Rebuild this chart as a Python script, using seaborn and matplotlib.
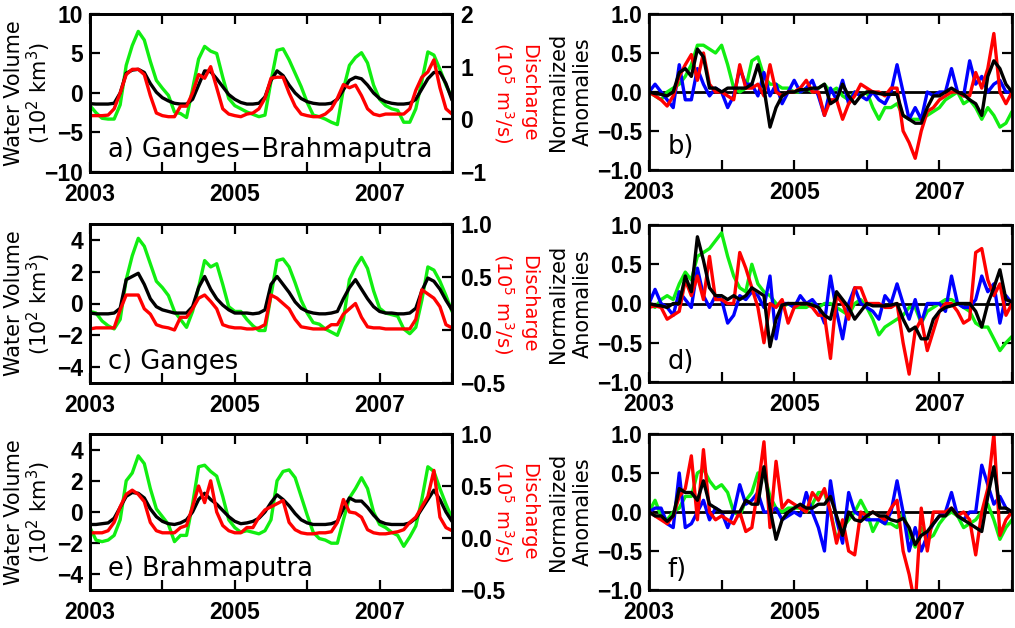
import numpy as np
import matplotlib
matplotlib.use("Agg")
import matplotlib.pyplot as plt
import seaborn as sns

# ---------------- data ----------------
months = np.arange(61)
time = 2003 + months / 12.0

year_ticks = [2003, 2004, 2005, 2006, 2007, 2008]
year_labels = ["2003", "", "2005", "", "2007", ""]

panel_names = ["a) Ganges\u2212Brahmaputra", "c) Ganges", "e) Brahmaputra"]
anom_names = ["b)", "d)", "f)"]

# Ganges-Brahmaputra (a)
gb_green = [-1.6, -2.5, -3.2, -3.3, -3.3, -1.5, 3.5, 6.0, 7.8, 6.7,
            4.0, 1.6, 0.6, -0.3, -2.4, -2.6, -3.1, 0.5, 4.3, 5.9,
            5.3, 5.0, 2.0, -0.7, -1.6, -2.0, -2.4, -2.7, -3.0, -2.8,
            1.5, 5.4, 5.6, 4.2, 2.5, 0.8, -1.2, -2.8, -3.0, -3.3,
            -3.7, -4.0, 0.5, 3.5, 4.5, 5.1, 3.8, 1.0, -0.8, -1.6,
            -2.0, -2.2, -3.7, -3.7, -2.0, 1.5, 5.2, 4.8, 3.0, 1.0,
            -0.6]
gb_black = [-1.35, -1.4, -1.4, -1.4, -1.3, 0.0, 2.5, 2.9, 3.0, 2.6,
            1.2, 0.1, -0.6, -1.0, -1.3, -1.4, -1.4, -0.8, 1.0, 2.8,
            2.7, 1.8, 0.8, -0.2, -0.8, -1.2, -1.4, -1.4, -1.3, -0.5,
            1.6, 2.8, 2.2, 1.0, 0.0, -0.7, -1.1, -1.3, -1.4, -1.4,
            -1.3, -0.8, 0.4, 1.6, 2.0, 1.8, 1.0, 0.0, -0.7, -1.1,
            -1.3, -1.4, -1.4, -1.3, -0.8, 0.5, 1.8, 2.6, 2.6, 1.2,
            -0.9]
gb_red = [0.07, 0.07, 0.07, 0.08, 0.2, 0.5, 0.85, 0.95, 0.95, 0.85,
          0.45, 0.12, 0.07, 0.05, 0.05, 0.25, 0.25, 0.5, 0.85, 0.78,
          1.0, 0.6, 0.2, 0.1, 0.07, 0.05, 0.1, 0.12, 0.2, 0.4,
          0.78, 0.8, 0.8, 0.5, 0.25, 0.1, 0.07, 0.05, 0.05, 0.1,
          0.2, 0.4, 0.66, 0.6, 0.65, 0.45, 0.2, 0.1, 0.07, 0.1,
          0.1, 0.1, 0.1, 0.2, 0.55, 0.8, 0.9, 1.13, 0.6, 0.2,
          0.1]

# Ganges (c)
g_green = [-0.5, -0.6, -1.1, -1.4, -1.6, -1.0, 1.5, 3.0, 4.1, 3.6,
           2.5, 1.4, 1.0, 0.5, -0.5, -1.0, -1.5, -0.5, 1.0, 2.7,
           2.3, 2.5, 1.2, -0.2, -0.5, -0.5, -1.0, -1.4, -1.7, -1.7,
           0.5, 2.7, 2.8, 2.3, 1.3, 0.2, -0.6, -1.2, -1.3, -1.6,
           -1.8, -2.0, -1.0, 1.5, 2.3, 2.9, 2.2, 0.8, -0.3, -0.6,
           -0.7, -0.8, -1.6, -1.9, -1.5, 0.2, 2.3, 2.1, 1.4, 0.5,
           -0.5]
g_black = [-0.6, -0.65, -0.65, -0.65, -0.6, -0.3, 1.5, 1.7, 1.9, 1.2,
           0.3, -0.2, -0.4, -0.5, -0.6, -0.6, -0.6, -0.2, 1.0, 1.7,
           0.9, 0.3, -0.1, -0.4, -0.6, -0.6, -0.6, -0.65, -0.6, -0.4,
           1.2, 1.7, 1.2, 0.7, 0.1, -0.3, -0.5, -0.6, -0.65, -0.65,
           -0.6, -0.5, 0.3, 1.0, 1.5, 0.9, 0.3, -0.2, -0.5, -0.6,
           -0.6, -0.65, -0.65, -0.6, -0.3, 0.8, 1.6, 1.4, 0.9, 0.2,
           -0.4]
g_red = [0.01, 0.02, 0.02, 0.02, 0.02, 0.19, 0.33, 0.33, 0.33, 0.2,
         0.15, 0.05, 0.03, 0.02, 0.0, 0.12, 0.12, 0.2, 0.3, 0.33,
         0.27, 0.2, 0.05, 0.03, 0.02, 0.02, 0.01, 0.01, 0.02, 0.05,
         0.33, 0.3, 0.25, 0.2, 0.1, 0.03, 0.02, 0.01, 0.01, 0.01,
         0.05, 0.05, 0.15, 0.2, 0.25, 0.12, 0.03, 0.02, 0.02, 0.01,
         0.01, 0.01, 0.01, 0.01, 0.1, 0.38, 0.34, 0.3, 0.22, 0.05,
         0.02]

# Brahmaputra (e)
b_green = [-1.0, -1.8, -1.9, -1.8, -1.5, -0.5, 2.0, 2.5, 3.6, 3.1,
           1.5, 0.2, -0.3, -0.8, -1.9, -1.5, -1.5, 0.5, 2.9, 3.0,
           2.6, 2.3, 1.0, -0.5, -1.0, -1.3, -1.2, -1.3, -1.4, -1.2,
           -0.5, 2.0, 2.6, 2.7, 2.2, 1.0, -0.2, -1.3, -1.7, -1.8,
           -2.0, -2.0, -0.5, 0.9, 1.5, 2.2, 1.5, 0.0, -0.8, -1.0,
           -1.3, -1.5, -2.2, -1.6, -0.9, 0.8, 2.9, 2.6, 1.5, 0.5,
           -0.4]
b_black = [-0.8, -0.8, -0.75, -0.7, -0.4, 0.3, 1.0, 1.25, 1.2, 0.9,
           0.2, -0.3, -0.6, -0.75, -0.8, -0.7, -0.5, 0.0, 0.8, 1.2,
           0.8, 0.5, 0.1, -0.3, -0.6, -0.75, -0.7, -0.6, -0.4, 0.0,
           0.6, 1.1, 0.8, 0.4, -0.1, -0.5, -0.7, -0.8, -0.8, -0.8,
           -0.75, -0.6, 0.2, 0.9, 0.7, 0.7, 0.3, -0.2, -0.6, -0.75,
           -0.8, -0.8, -0.8, -0.7, -0.4, 0.2, 0.8, 1.4, 0.8, 0.0,
           -0.6]
b_red = [0.05, 0.05, 0.05, 0.07, 0.15, 0.3, 0.42, 0.46, 0.42, 0.35,
         0.15, 0.07, 0.05, 0.05, 0.05, 0.1, 0.12, 0.3, 0.5, 0.34,
         0.55, 0.25, 0.12, 0.07, 0.05, 0.05, 0.1, 0.1, 0.2, 0.27,
         0.3, 0.33, 0.36, 0.15, 0.08, 0.05, 0.04, 0.04, 0.05, 0.05,
         0.06, 0.15, 0.37, 0.25, 0.24, 0.2, 0.08, 0.05, 0.04, 0.04,
         0.05, 0.06, 0.08, 0.15, 0.2, 0.3, 0.4, 0.65, 0.2, 0.1,
         0.07]

# Normalized anomalies (b)
an_b_green = [0.0, -0.05, -0.1, 0.0, 0.05, 0.1, 0.2, 0.35, 0.6, 0.6,
              0.55, 0.5, 0.6, 0.35, 0.05, 0.0, 0.05, 0.4, 0.45, 0.2,
              0.1, 0.1, 0.05, 0.05, 0.0, 0.0, 0.05, 0.0, 0.05, 0.1,
              0.0, 0.05, -0.05, -0.1, 0.0, -0.05, 0.0, -0.2, -0.35, -0.2,
              -0.2, -0.15, -0.3, -0.35, -0.35, -0.35, -0.3, -0.25, -0.2, -0.1,
              -0.05, 0.0, -0.15, -0.1, -0.2, -0.35, -0.2, -0.3, -0.45, -0.4,
              -0.25]
an_b_blue = [0.0, 0.1, 0.0, -0.1, -0.2, 0.35, -0.1, -0.1, 0.3, 0.1,
             -0.05, 0.05, 0.0, -0.2, -0.05, 0.3, 0.1, 0.1, -0.05, 0.25,
             -0.05, 0.1, -0.15, 0.0, 0.15, 0.0, 0.05, 0.15, -0.05, -0.3,
             0.05, -0.1, 0.15, -0.15, 0.0, -0.05, -0.1, 0.0, -0.1, -0.15,
             0.0, 0.35, 0.0, -0.35, -0.2, -0.35, 0.0, -0.05, 0.0, 0.0,
             0.3, 0.0, -0.05, 0.4, 0.1, 0.2, 0.0, 0.1, 0.15, 0.0,
             0.0]
an_b_red = [0.0, -0.05, -0.1, -0.18, -0.05, 0.2, 0.35, 0.48, 0.15, 0.5,
            0.1, 0.0, 0.0, -0.05, -0.1, 0.35, 0.05, 0.05, 0.1, -0.05,
            0.35, 0.0, -0.05, 0.0, 0.0, 0.05, 0.15, 0.0, 0.0, -0.3,
            -0.1, -0.1, -0.35, -0.15, -0.05, 0.1, 0.05, 0.0, 0.0, -0.05,
            0.05, 0.05, -0.5, -0.65, -0.85, -0.5, -0.25, -0.2, -0.1, -0.05,
            0.0, 0.0, -0.05, -0.05, 0.25, 0.05, 0.3, 0.75, 0.0, -0.15,
            0.0]
an_b_black = [0.0, -0.02, -0.03, -0.05, 0.0, 0.25, 0.3, 0.2, 0.55, 0.45,
              0.05, 0.05, 0.0, 0.05, 0.05, 0.05, 0.05, 0.1, 0.35, 0.05,
              -0.45, -0.2, -0.05, 0.0, 0.0, 0.03, 0.03, 0.05, 0.05, 0.1,
              -0.15, -0.1, 0.1, -0.05, -0.15, -0.05, 0.0, 0.0, -0.02, -0.03,
              -0.03, -0.03, -0.3, -0.35, -0.4, -0.4, -0.2, -0.05, -0.05, 0.0,
              0.05, 0.0, -0.03, -0.1, -0.15, -0.3, 0.2, 0.4, 0.3, 0.1,
              0.0]

# Normalized anomalies (d)
an_d_green = [0.0, -0.05, 0.05, 0.1, 0.05, 0.25, 0.4, 0.3, 0.6, 0.65,
              0.7, 0.8, 0.9, 0.6, 0.35, 0.2, 0.15, 0.5, 0.25, 0.15,
              0.1, 0.0, -0.05, 0.0, -0.05, -0.05, -0.05, 0.0, -0.05, 0.0,
              0.0, -0.05, -0.1, -0.15, 0.0, 0.05, -0.05, -0.2, -0.4, -0.3,
              -0.25, -0.2, -0.15, -0.05, -0.05, -0.25, -0.1, -0.05, 0.0, 0.05,
              0.05, 0.0, -0.05, -0.1, -0.25, -0.3, -0.3, -0.45, -0.6, -0.5,
              -0.42]
an_d_blue = [0.0, 0.18, 0.0, -0.05, -0.15, 0.15, 0.05, -0.05, 0.45, 0.1,
             -0.05, 0.1, 0.05, -0.25, -0.15, 0.1, 0.05, 0.15, 0.1, -0.05,
             0.35, -0.45, 0.0, 0.0, -0.05, 0.1, 0.0, 0.05, -0.05, -0.25,
             0.35, -0.1, -0.45, 0.0, 0.2, 0.0, -0.05, -0.1, -0.2, 0.1,
             0.0, 0.25, 0.0, -0.2, 0.05, -0.25, 0.0, 0.0, 0.0, -0.1,
             0.35, 0.0, -0.05, -0.05, 0.05, 0.35, 0.15, 0.25, -0.25, 0.1,
             0.0]
an_d_red = [-0.05, -0.03, -0.05, -0.2, -0.15, -0.1, 0.3, 0.1, 0.35, 0.05,
            0.6, 0.05, 0.05, 0.0, 0.0, 0.65, 0.45, 0.2, -0.05, -0.5,
            0.0, -0.05, 0.05, -0.25, -0.05, 0.0, 0.0, -0.05, -0.15, -0.15,
            -0.7, 0.1, 0.0, -0.2, 0.2, 0.2, 0.0, 0.0, 0.0, -0.05,
            -0.05, 0.0, -0.5, -0.9, -0.35, -0.2, -0.6, -0.35, -0.1, 0.0,
            0.0, -0.1, -0.25, -0.2, 0.65, 0.7, 0.3, 0.1, 0.25, -0.15,
            0.0]
an_d_black = [0.0, -0.02, -0.03, -0.05, 0.0, 0.0, 0.35, 0.15, 0.85, 0.55,
              0.2, 0.1, 0.1, 0.05, 0.1, 0.05, 0.1, 0.2, 0.15, 0.1,
              -0.55, -0.2, -0.02, 0.0, 0.0, 0.0, 0.0, -0.02, -0.05, -0.15,
              -0.2, 0.15, 0.05, -0.05, -0.2, -0.1, 0.0, -0.03, -0.03, -0.03,
              -0.02, 0.0, -0.2, -0.35, -0.3, -0.45, -0.45, -0.2, -0.1, -0.05,
              -0.03, 0.0, 0.0, 0.0, -0.1, -0.3, 0.0, 0.2, 0.43, 0.05,
              0.02]

# Normalized anomalies (f)
an_f_green = [0.0, 0.15, -0.05, -0.1, 0.0, 0.05, 0.2, 0.2, 0.5, 0.55,
              0.4, 0.3, 0.35, 0.25, 0.0, -0.05, 0.15, 0.25, 0.5, 0.5,
              0.2, 0.05, 0.0, 0.05, 0.05, 0.05, 0.0, 0.1, 0.25, 0.25,
              0.0, -0.35, -0.2, -0.1, 0.0, 0.15, 0.0, -0.25, -0.1, -0.15,
              -0.15, -0.2, 0.0, -0.3, -0.45, -0.2, -0.35, -0.3, -0.15, -0.05,
              0.0, -0.05, -0.2, -0.15, -0.1, 0.0, 0.1, -0.1, -0.35, -0.2,
              -0.1]
an_f_blue = [0.0, 0.05, 0.05, -0.15, -0.2, 0.5, -0.2, -0.15, 0.0, 0.15,
             -0.1, 0.05, 0.0, -0.2, 0.0, 0.35, 0.1, 0.15, 0.25, 0.0,
             0.0, 0.05, -0.1, -0.05, 0.0, -0.05, 0.25, 0.0, -0.2, -0.5,
             0.4, -0.1, -0.4, 0.25, 0.0, -0.05, -0.1, -0.1, -0.1, -0.15,
             0.0, 0.4, 0.0, -0.5, -0.2, -0.5, -0.3, -0.15, -0.05, 0.0,
             0.25, -0.05, -0.1, 0.0, 0.0, 0.6, 0.35, 0.1, 0.2, 0.05,
             0.0]
an_f_red = [0.0, -0.05, -0.1, -0.15, -0.05, 0.2, 0.3, 0.72, -0.1, 0.8,
            0.0, -0.1, -0.05, -0.1, -0.15, 0.0, -0.25, -0.2, 0.3, 0.9,
            -0.2, 0.65, 0.05, 0.15, 0.1, 0.05, 0.0, 0.25, 0.15, 0.3,
            0.0, -0.4, -0.1, -0.5, -0.55, 0.0, -0.05, 0.0, -0.05, -0.1,
            0.05, 0.15, -0.5, -0.8, -1.2, 0.05, -0.5, 0.0, 0.0, 0.0,
            0.05, -0.05, 0.0, -0.1, -0.55, 0.0, 0.3, 1.0, -0.3, -0.1,
            0.0]
an_f_black = [0.0, -0.05, -0.05, -0.12, -0.05, 0.3, 0.25, 0.25, 0.15, 0.4,
              0.1, 0.05, 0.0, 0.0, 0.0, 0.0, 0.15, 0.1, 0.1, 0.58,
              0.05, -0.35, -0.1, 0.0, 0.05, 0.1, 0.05, 0.05, 0.1, 0.1,
              0.2, -0.05, -0.3, 0.0, -0.1, -0.12, -0.05, 0.0, -0.05, -0.05,
              -0.1, -0.12, -0.08, -0.2, -0.42, -0.3, -0.25, -0.15, -0.05, -0.05,
              0.05, -0.05, -0.1, -0.15, -0.2, -0.25, 0.2, 0.58, 0.05, 0.05,
              0.0]

left_yticks = [[-10, -5, 0, 5, 10], [-4, -2, 0, 2, 4], [-4, -2, 0, 2, 4]]
left_ylims = [(-10, 10), (-5, 5), (-5, 5)]
right_yticks = [[-1, 0, 1, 2], [-0.5, 0.0, 0.5, 1.0], [-0.5, 0.0, 0.5, 1.0]]
right_ylims = [(-1, 2), (-0.5, 1.0), (-0.5, 1.0)]
right_fmt = ["{:.0f}", "{:.1f}", "{:.1f}"]
anom_yticks = [-1.0, -0.5, 0.0, 0.5, 1.0]

# ---------------- style ----------------
sns.set_style("ticks")
plt.rcParams['font.family'] = ['DejaVu Sans']
plt.rcParams['mathtext.fontset'] = 'dejavusans'
for key in ['text.color', 'axes.labelcolor', 'xtick.color', 'ytick.color',
            'axes.edgecolor']:
    plt.rcParams[key] = 'black'

GREEN = '#11ee11'
RED = '#ff0000'
BLUE = '#0000ff'
BLACK = '#000000'
LW = 2.4
TICKFONT = dict(fontfamily='Liberation Sans', fontweight='bold', fontsize=16.5)

W, H = 1015, 628
fig = plt.figure(figsize=(W / 100, H / 100), dpi=100)


def box(l, t, r, b):
    return [l / W, 1 - b / H, (r - l) / W, (b - t) / H]


def fmt(v, f):
    return f.format(v).replace('-', '\u2212')


left_boxes = [(90, 14, 452, 172), (90, 224, 452, 383), (90, 434, 452, 590)]
right_boxes = [(649, 14, 1012, 170), (649, 225, 1012, 382), (649, 434, 1012, 590)]

left_data = [(gb_green, gb_black, gb_red), (g_green, g_black, g_red), (b_green, b_black, b_red)]
anom_data = [(an_b_green, an_b_blue, an_b_red, an_b_black),
             (an_d_green, an_d_blue, an_d_red, an_d_black),
             (an_f_green, an_f_blue, an_f_red, an_f_black)]


def style_x(ax):
    ax.set_xlim(2003, 2008)
    ax.set_xticks(year_ticks)
    ax.set_xticklabels(year_labels, **TICKFONT)
    ax.tick_params(axis='x', direction='in', top=True, bottom=True, length=7,
                   width=1.6, pad=8)
    for s in ax.spines.values():
        s.set_linewidth(2.0)
        s.set_color('black')
    ax.set_xlabel('')
    ax.set_ylabel('')


for k in range(3):
    gr, bk, rd = left_data[k]
    ax = fig.add_axes(box(*left_boxes[k]))
    ax2 = ax.twinx()
    sns.lineplot(x=time, y=np.array(gr), ax=ax, color=GREEN, linewidth=LW)
    sns.lineplot(x=time, y=np.array(bk), ax=ax, color=BLACK, linewidth=LW)
    sns.lineplot(x=time, y=np.array(rd), ax=ax2, color=RED, linewidth=LW)
    style_x(ax)
    ax.set_ylim(*left_ylims[k])
    ax.set_yticks(left_yticks[k])
    ax.set_yticklabels([fmt(v, "{:.0f}") for v in left_yticks[k]], **TICKFONT)
    ax.tick_params(axis='y', direction='in', left=True, right=False, length=7,
                   width=1.6, pad=5)
    ax2.set_xlim(2003, 2008)
    ax2.set_ylim(*right_ylims[k])
    ax2.set_yticks(right_yticks[k])
    ax2.set_yticklabels([fmt(v, right_fmt[k]) for v in right_yticks[k]], **TICKFONT)
    ax2.tick_params(axis='y', direction='in', right=True, left=False, length=7,
                    width=1.6, pad=6)
    ax2.set_ylabel('')
    for s in ax2.spines.values():
        s.set_linewidth(2.0)
    ax.text(0.05, [0.14, 0.13, 0.134][k], panel_names[k], transform=ax.transAxes,
            fontsize=18.5, va='center', ha='left', color='black')

    # y labels
    l, t, r, b = left_boxes[k]
    yc = 1 - (t + b) / 2 / H
    fig.text(14 / W, yc, "Water Volume", rotation=90, ha='center', va='center',
             fontsize=15)
    fig.text(39 / W, yc, r"(10$^2$ km$^3$)", rotation=90, ha='center', va='center',
             fontsize=15)
    fig.text(529 / W, yc, "Discharge", rotation=270, ha='center', va='center',
             fontsize=14, color=RED)
    fig.text(504 / W, yc, r"(10$^5$ m$^3$/s)", rotation=270, ha='center',
             va='center', fontsize=14, color=RED)

for k in range(3):
    gr, bl, rd, bk = anom_data[k]
    ax = fig.add_axes(box(*right_boxes[k]))
    ax.axhline(0, color='black', linewidth=2.0, zorder=1)
    sns.lineplot(x=time, y=np.array(gr), ax=ax, color=GREEN, linewidth=LW)
    sns.lineplot(x=time, y=np.array(bl), ax=ax, color=BLUE, linewidth=LW)
    sns.lineplot(x=time, y=np.array(rd), ax=ax, color=RED, linewidth=LW)
    sns.lineplot(x=time, y=np.array(bk), ax=ax, color=BLACK, linewidth=LW)
    style_x(ax)
    ax.set_ylim(-1, 1)
    ax.set_yticks(anom_yticks)
    ax.set_yticklabels([fmt(v, "{:.1f}") for v in anom_yticks], **TICKFONT)
    ax.tick_params(axis='y', direction='in', left=True, right=True, length=7,
                   width=1.6, pad=5)
    ax.text(0.05, [0.147, 0.127, 0.128][k], anom_names[k], transform=ax.transAxes,
            fontsize=18.5, va='center', ha='left', color='black')
    l, t, r, b = right_boxes[k]
    yc = 1 - (t + b) / 2 / H
    fig.text(558 / W, yc, "Normalized", rotation=90, ha='center', va='center',
             fontsize=15)
    fig.text(583 / W, yc, "Anomalies", rotation=90, ha='center', va='center',
             fontsize=15)

fig.savefig("out.png", dpi=100)
